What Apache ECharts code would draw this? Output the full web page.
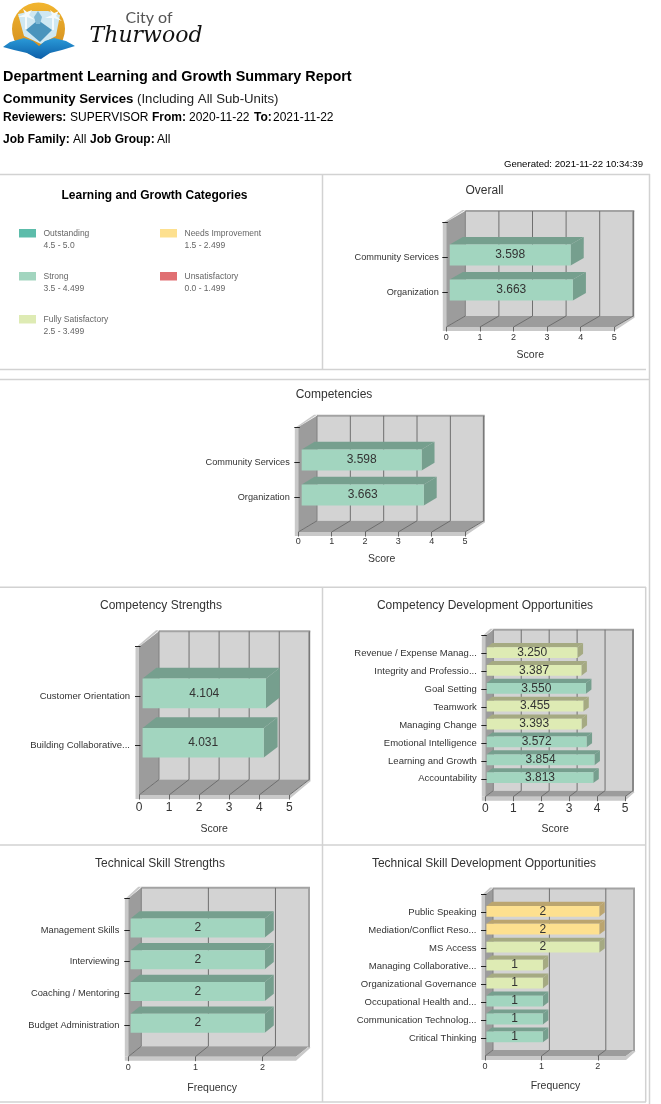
<!DOCTYPE html>
<html><head><meta charset="utf-8">
<style>html,body{margin:0;padding:0;background:#fff}#c{width:661px;height:1104px}</style>
<script src="https://cdn.jsdelivr.net/npm/echarts@6/dist/echarts.min.js"></script>
</head><body><div id="c"></div>
<script>
const overallCats=['Community Services','Organization'];
const overallValues=[3.598,3.663];
const overallRatings=['Strong','Strong'];
const competencyCats=['Community Services','Organization'];
const competencyValues=[3.598,3.663];
const competencyRatings=['Strong','Strong'];
const strengthCats=['Customer Orientation','Building Collaborative...'];
const strengthValues=[4.104,4.031];
const strengthRatings=['Strong','Strong'];
const devCats=['Revenue / Expense Manag...','Integrity and Professio...','Goal Setting','Teamwork','Managing Change','Emotional Intelligence','Learning and Growth','Accountability'];
const devValues=[3.250,3.387,3.550,3.455,3.393,3.572,3.854,3.813];
const devRatings=['Fully Satisfactory','Fully Satisfactory','Strong','Fully Satisfactory','Fully Satisfactory','Strong','Strong','Strong'];
const techStrengthCats=['Management Skills','Interviewing','Coaching / Mentoring','Budget Administration'];
const techStrengthValues=[2,2,2,2];
const techStrengthRatings=['Strong','Strong','Strong','Strong'];
const techDevCats=['Public Speaking','Mediation/Conflict Reso...','MS Access','Managing Collaborative...','Organizational Governance','Occupational Health and...','Communication Technolog...','Critical Thinking'];
const techDevValues=[2,2,2,1,1,1,1,1];
const techDevRatings=['Needs Improvement','Needs Improvement','Fully Satisfactory','Fully Satisfactory','Fully Satisfactory','Strong','Strong','Strong'];
const scoreTicks=[0,1,2,3,4,5];
const freqTicks=[0,1,2];
const legendNames=['Outstanding','Strong','Fully Satisfactory','Needs Improvement','Unsatisfactory'];
const legendRanges=['4.5 - 5.0','3.5 - 4.499','2.5 - 3.499','1.5 - 2.499','0.0 - 1.499'];

const FONT='"Liberation Sans",Arial,sans-serif';
const faceColor={'Outstanding':'#5cbcaa','Strong':'#a2d5bf','Fully Satisfactory':'#deebb4','Needs Improvement':'#fde08f','Unsatisfactory':'#e06f72'};
const topColor={'Outstanding':'#468f82','Strong':'#769f8e','Fully Satisfactory':'#a5aa82','Needs Improvement':'#bba56f','Unsatisfactory':'#a85355'};

const panels=[
 {title:'Overall',tx:479.5,ty:180,cats:overallCats,vals:overallValues,rat:overallRatings,x0:446.3,x1:614.3,top:222,bot:327,dx:19,dy:11,max:5,ticks:scoreTicks,name:'Score',tickSize:9,tickCY:338,nameCY:356,fix:3,lab:9.2,lm:9},
 {title:'Competencies',tx:329,ty:384,cats:competencyCats,vals:competencyValues,rat:competencyRatings,x0:298.3,x1:465,top:427,bot:532,dx:18.7,dy:11.2,max:5,ticks:scoreTicks,name:'Score',tickSize:9,tickCY:542,nameCY:560,fix:3,lab:9.2,lm:10},
 {title:'Competency Strengths',tx:156,ty:595,cats:strengthCats,vals:strengthValues,rat:strengthRatings,x0:139,x1:289.3,top:646.7,bot:795,dx:20,dy:15.5,max:5,ticks:scoreTicks,name:'Score',tickSize:12,tickCY:808,nameCY:830,fix:3,lab:9.5,lm:10.5},
 {title:'Competency Development Opportunities',tx:480,ty:595,cats:devCats,vals:devValues,rat:devRatings,x0:485.3,x1:625,top:635.7,bot:796.7,dx:8,dy:6,max:5,ticks:scoreTicks,name:'Score',tickSize:12,tickCY:808.5,nameCY:830,fix:3,lab:9.5,lm:10},
 {title:'Technical Skill Strengths',tx:155,ty:853,cats:techStrengthCats,vals:techStrengthValues,rat:techStrengthRatings,x0:128.3,x1:296,top:898.3,bot:1056.7,dx:13,dy:10.5,max:2.5,ticks:freqTicks,name:'Frequency',tickSize:9,tickCY:1068,nameCY:1089,fix:0,lab:9.3,lm:10.5},
 {title:'Technical Skill Development Opportunities',tx:479,ty:853,cats:techDevCats,vals:techDevValues,rat:techDevRatings,x0:485,x1:626,top:894.4,bot:1056,dx:8,dy:6,max:2.5,ticks:freqTicks,name:'Frequency',tickSize:9,tickCY:1067,nameCY:1087,fix:0,lab:9.5,lm:10}
];

const grid=[],xAxis=[],yAxis=[],series=[],title=[];
panels.forEach((p,k)=>{
  const n=p.cats.length;
  const ycats=[' ',...p.cats,'  '];
  title.push({text:p.title,left:p.tx,top:p.ty,textAlign:'center',textStyle:{fontFamily:FONT,fontSize:12,fontWeight:'normal',color:'#333'}});
  grid.push({left:p.x0,top:p.top,width:p.x1-p.x0,height:p.bot-p.top,containLabel:false});
  xAxis.push({gridIndex:k,type:'value',min:0,max:p.max,interval:1,
    axisLine:{show:false},splitLine:{show:false},
    axisTick:{show:true,length:4.5,lineStyle:{color:'#666'},customValues:p.ticks},
    axisLabel:{color:'#333',fontFamily:FONT,fontSize:p.tickSize,margin:p.tickCY-p.bot-p.tickSize/2,customValues:p.ticks,formatter:v=>String(v)},
    name:p.name,nameLocation:'middle',nameGap:p.nameCY-p.bot-6,
    nameTextStyle:{color:'#333',fontFamily:FONT,fontSize:10.5}});
  yAxis.push({gridIndex:k,type:'category',inverse:true,data:ycats,boundaryGap:false,offset:-1.5,
    axisLine:{show:false},splitLine:{show:false},
    axisTick:{show:true,length:5.5,lineStyle:{color:'#222'},interval:(i)=>i<=n},
    axisLabel:{color:'#333',fontFamily:FONT,fontSize:p.lab,margin:p.lm,interval:0}});
  series.push({type:'custom',xAxisIndex:k,yAxisIndex:k,z:-1,silent:true,animation:false,clip:false,
    data:[[0,0]],
    renderItem(params,api){
      const tl=api.coord([0,0]),br=api.coord([p.max,n+1]);
      const x0=tl[0],top=tl[1],x1=br[0],bot=br[1],dx=p.dx,dy=p.dy;
      const poly=(pts,fill)=>({type:'polygon',shape:{points:pts},style:{fill}});
      const line=(a,b,c,w)=>({type:'line',shape:{x1:a[0],y1:a[1],x2:b[0],y2:b[1]},style:{stroke:c,lineWidth:w||1}});
      const ch=[
        poly([[x0-3.5,top+1],[x0+dx-3,top-dy-1],[x0+dx,top-dy-1],[x0,top],[x0,bot],[x0-3.5,bot]],'#c9c9c9'),
        {type:'rect',shape:{x:x0+dx,y:top-dy,width:x1-x0,height:bot-top},style:{fill:'#d3d3d3'}},
        poly([[x0,top],[x0+dx,top-dy],[x0+dx,bot-dy],[x0,bot]],'#9c9c9c'),
        poly([[x0,bot],[x0+dx,bot-dy],[x1+dx,bot-dy],[x1,bot]],'#9c9c9c'),
        poly([[x0-3.5,bot],[x1,bot],[x1+dx,bot-dy],[x1+dx+1.5,bot-dy+1.5],[x1,bot+4],[x0-3.5,bot+4]],'#c9c9c9'),
        line([x0+dx,top-dy],[x1+dx+1,top-dy],'#a3a3a3',2),
        line([x1+dx,top-dy],[x1+dx,bot-dy+1],'#a3a3a3',2),
        line([x0+dx,top-dy],[x0+dx,bot-dy],'#808080',1)
      ];
      p.ticks.forEach(t=>{
        const c=api.coord([t,n+1]);
        ch.push(line([c[0],bot],[c[0]+dx,bot-dy],'#6e6e6e',1));
        if(t>0)ch.push(line([c[0]+dx,top-dy],[c[0]+dx,bot-dy],'#6f6f6f',1));
      });
      return {type:'group',children:ch};
    }});
  series.push({type:'custom',xAxisIndex:k,yAxisIndex:k,z:2,silent:true,animation:false,clip:false,
    encode:{x:0,y:1},
    data:p.vals.map((v,i)=>[v,p.cats[i]]),
    renderItem(params,api){
      const i=params.dataIndex,v=p.vals[i];
      const a=api.coord([0,i+1]),b=api.coord([v,i+1]);
      const band=api.size([0,1])[1],h=band*0.6;
      const ox=0.18*p.dx,oy=0.18*p.dy,bx=0.69*p.dx,by=0.69*p.dy;
      const l=a[0]+ox,r=b[0]+ox,t=a[1]-oy-h/2,B=a[1]-oy+h/2;
      const rat=p.rat[i];
      return {type:'group',children:[
        {type:'polygon',shape:{points:[[l,t],[l+bx,t-by],[r+bx,t-by],[r,t]]},style:{fill:topColor[rat]}},
        {type:'polygon',shape:{points:[[r,t],[r+bx,t-by],[r+bx,B-by],[r,B]]},style:{fill:topColor[rat]}},
        {type:'rect',shape:{x:l,y:t,width:r-l,height:B-t},style:{fill:faceColor[rat]}},
        {type:'text',x:(l+r)/2,y:(t+B)/2,style:{text:v.toFixed(p.fix),align:'center',verticalAlign:'middle',fill:'#333',fontFamily:FONT,fontSize:12}}
      ]};
    }});
});

/* report frame, header, legend and logo */
const g=[];
const hl=(y,a,b)=>g.push({type:'line',shape:{x1:a,y1:y,x2:b,y2:y},style:{stroke:'#d2d2d2',lineWidth:1.5},silent:true});
const vl=(x,a,b)=>g.push({type:'line',shape:{x1:x,y1:a,x2:x,y2:b},style:{stroke:'#d2d2d2',lineWidth:1.5},silent:true});
hl(174.5,0,650);hl(369.5,0,646);hl(379.5,0,650);hl(587.3,0,646);hl(845,0,646);hl(1102,0,646);
vl(322.5,174,369.5);vl(322.5,587,1102);vl(649.5,174,1104);vl(645.7,587,1102);
const txt=(x,y,text,o)=>g.push({type:'text',x,y,style:Object.assign({text,fill:'#000',fontFamily:FONT,fontSize:12,verticalAlign:'middle'},o||{})});
txt(3,77,'Department Learning and Growth Summary Report',{fontSize:14.4,fontWeight:'bold'});
txt(3,99,'Community Services',{fontSize:13.2,fontWeight:'bold'});
txt(137,99,'(Including All Sub-Units)',{fontSize:13.2,fill:'#222'});
const seq=(y,parts)=>parts.forEach(([x,t,b])=>txt(x,y,t,{fontWeight:b?'bold':'normal'}));
seq(118,[[3,'Reviewers:',1],[70,'SUPERVISOR',0],[152,'From:',1],[189,'2020-11-22',0],[254,'To:',1],[273,'2021-11-22',0]]);
seq(140,[[3,'Job Family:',1],[73,'All',0],[90,'Job Group:',1],[157,'All',0]]);
txt(643,164,'Generated: 2021-11-22 10:34:39',{fontSize:9.6,align:'right'});
txt(154.5,196,'Learning and Growth Categories',{fontWeight:'bold',align:'center'});
const legendPos=[[19,233],[19,276],[19,319],[160,233],[160,276]];
legendNames.forEach((nm,i)=>{
  const [x,y]=legendPos[i];
  g.push({type:'rect',shape:{x,y:y-4,width:17,height:8.5},style:{fill:faceColor[nm]}});
  txt(x+24.5,y+1,nm,{fontSize:8.5,fill:'#666'});
  txt(x+24.5,y+13,legendRanges[i],{fontSize:8.5,fill:'#666'});
});
/* logo */
g.push({type:'circle',shape:{cx:38.5,cy:29,r:26.5},style:{fill:new echarts.graphic.LinearGradient(0,0,0,1,[{offset:0,color:'#f2b52e'},{offset:1,color:'#cf8a1f'}])}});
g.push({type:'polygon',shape:{points:[[18,14],[32,11],[48,11],[60,15],[56,36],[41,44],[24,36]]},style:{fill:'#cfe8f2'}});
g.push({type:'polygon',shape:{points:[[26,30],[38,20],[52,30],[40,42]]},style:{fill:'#4a94bc'}});
g.push({type:'polygon',shape:{points:[[34,17],[38,11],[42,17],[40,24],[36,24]]},style:{fill:'#7fb8d4'}});
[[26,15],[53,16]].forEach(([x,y])=>g.push({type:'polygon',shape:{points:[[x-8,y+2],[x-1,y-1],[x-3,y-6],[x+1,y-3],[x+6,y-5],[x+3,y],[x+9,y+5],[x+1,y+2],[x+1,y+14],[x-1,y+14],[x-1,y+2]]},style:{fill:'#f4fafc'}}));
g.push({type:'polygon',shape:{points:[[3,47],[10,42],[24,38],[33,41],[39,46],[45,41],[54,38],[66,41],[75,46],[62,50],[50,53],[41,59],[36,58],[27,53],[14,50]]},style:{fill:new echarts.graphic.LinearGradient(0,0,0,1,[{offset:0,color:'#2a9ad8'},{offset:1,color:'#0c5ea8'}])}});
txt(149,18,'City of',{fontFamily:'Lato,"Open Sans",sans-serif',fontSize:16,fill:'#555',align:'center'});
txt(146,36,'Thurwood',{fontFamily:'"DejaVu Serif",serif',fontStyle:'italic',fontSize:22,fill:'#111',align:'center'});

const chart=echarts.init(document.getElementById('c'),null,{renderer:'canvas'});
chart.setOption({animation:false,backgroundColor:'#fff',tooltip:{show:false},title,grid,xAxis,yAxis,series,graphic:{elements:g}});
</script></body></html>
